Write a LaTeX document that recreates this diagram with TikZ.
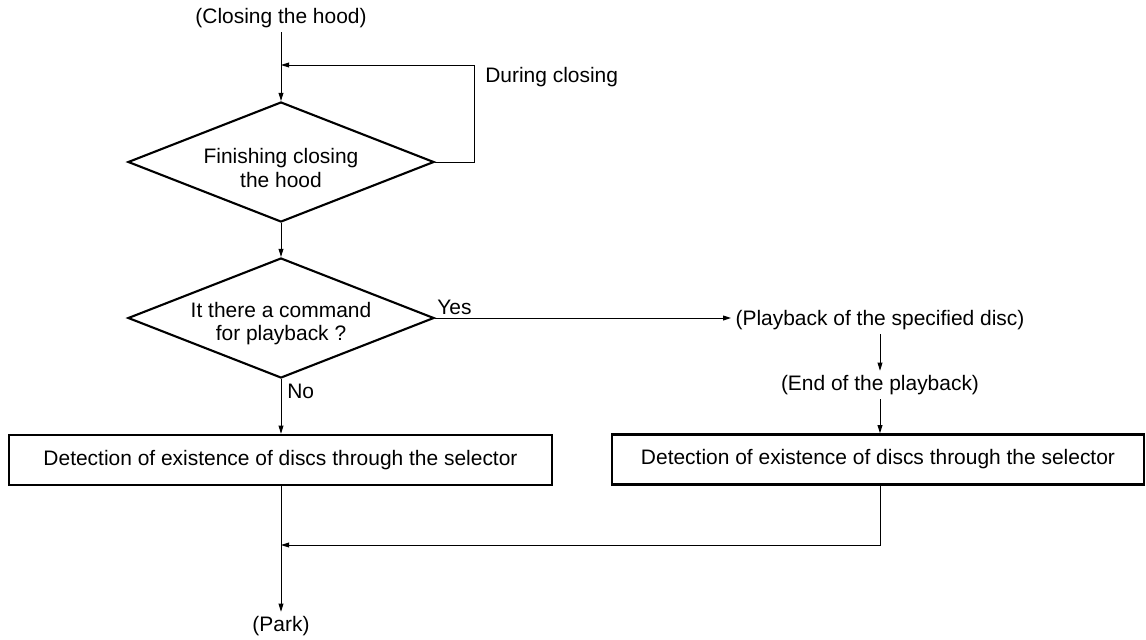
\documentclass[tikz,border=0pt]{standalone}
\usepackage{fontspec}
\setmainfont{Liberation Sans}
\usepackage{tikz}
\usetikzlibrary{shapes.geometric, arrows.meta, positioning, calc}

\begin{document}
\begin{tikzpicture}[
      x=0.025cm, y=-0.025cm,
      font=\fontsize{14.9}{16.4}\selectfont,
      decisionbox/.style={
          draw,
          diamond,
          line width=1.5pt,
          aspect=2.55,
          inner sep=0pt,
          minimum width=7.65cm,
          minimum height=3cm
      },
      decisiontxt/.style={
          inner sep=0pt,
          align=center
      },
      detectbox/.style={
          draw,
          line width=1.8pt,
          minimum height=1.25cm,
          inner sep=0pt,
          align=center
      },
      statelbl/.style={
          inner sep=3pt
      },
      taglbl/.style={
          inner sep=0pt
      },
      arrow/.style={-{Triangle[length=0.2cm, width=0.12cm]}, line width=0.7pt}
  ]
      \useasboundingbox (0, 0) rectangle (1146, 639);

      % --- States ---
      \node[statelbl] (start) at (281, 18) {(Closing the hood)};
      \node[statelbl] (play) at (880, 320) {(Playback of the specified disc)};
      \node[statelbl] (endplay) at (880, 385) {(End of the playback)};
      \node[statelbl] (park) at (281, 626) {(Park)};

      % --- Decisions ---
      \node[decisionbox] (finish) at (281, 162) {};
      \node[decisiontxt] (finishtxt) at ($(finish) + (0, 6)$) {Finishing closing\\the hood};
      \node[decisionbox] (cmd) at (281, 318) {};
      \node[decisiontxt] (cmdtxt) at ($(cmd) + (0, 6)$) {It there a command\\for playback ?};

      % --- Detection blocks ---
      \node[detectbox, minimum width=13.575cm] (detleft) at (280.5, 460) {Detection of existence of discs through the selector};
      \node[detectbox, minimum width=13.3cm] (detright) at (878, 459.5) {Detection of existence of discs through the selector};

      % --- Labels ---
      \node[taglbl, anchor=north west] (during) at (485, 67) {During closing};
      \node[taglbl, anchor=south west] (yes) at ($(cmd.east) + (2, -3)$) {Yes};
      \node[taglbl, anchor=north west] (no) at ($(cmd.south) + (6, 5)$) {No};

      % --- Helper points ---
      \coordinate (loop) at (474, 65);
      \coordinate (merge) at (281, 545);

      % --- Connections (arrows) ---
      \draw[arrow] (start) -- (finish);
      \draw[arrow] (finish.east) -| (loop) -- (start.south |- loop);
      \draw[arrow] (finish) -- (cmd);

      \draw[arrow] (cmd.east) -- (cmd.east -| play.west);
      \draw[arrow] (cmd.south) -- (cmd.south |- detleft.north);

      \draw[arrow] (play) -- (endplay);
      \draw[arrow] (endplay) -- (endplay |- detright.north);

      \draw[arrow] (park |- detleft.south) -- (park);
      \draw[arrow] (endplay |- detright.south) |- (merge);

  \end{tikzpicture}
\end{document}
